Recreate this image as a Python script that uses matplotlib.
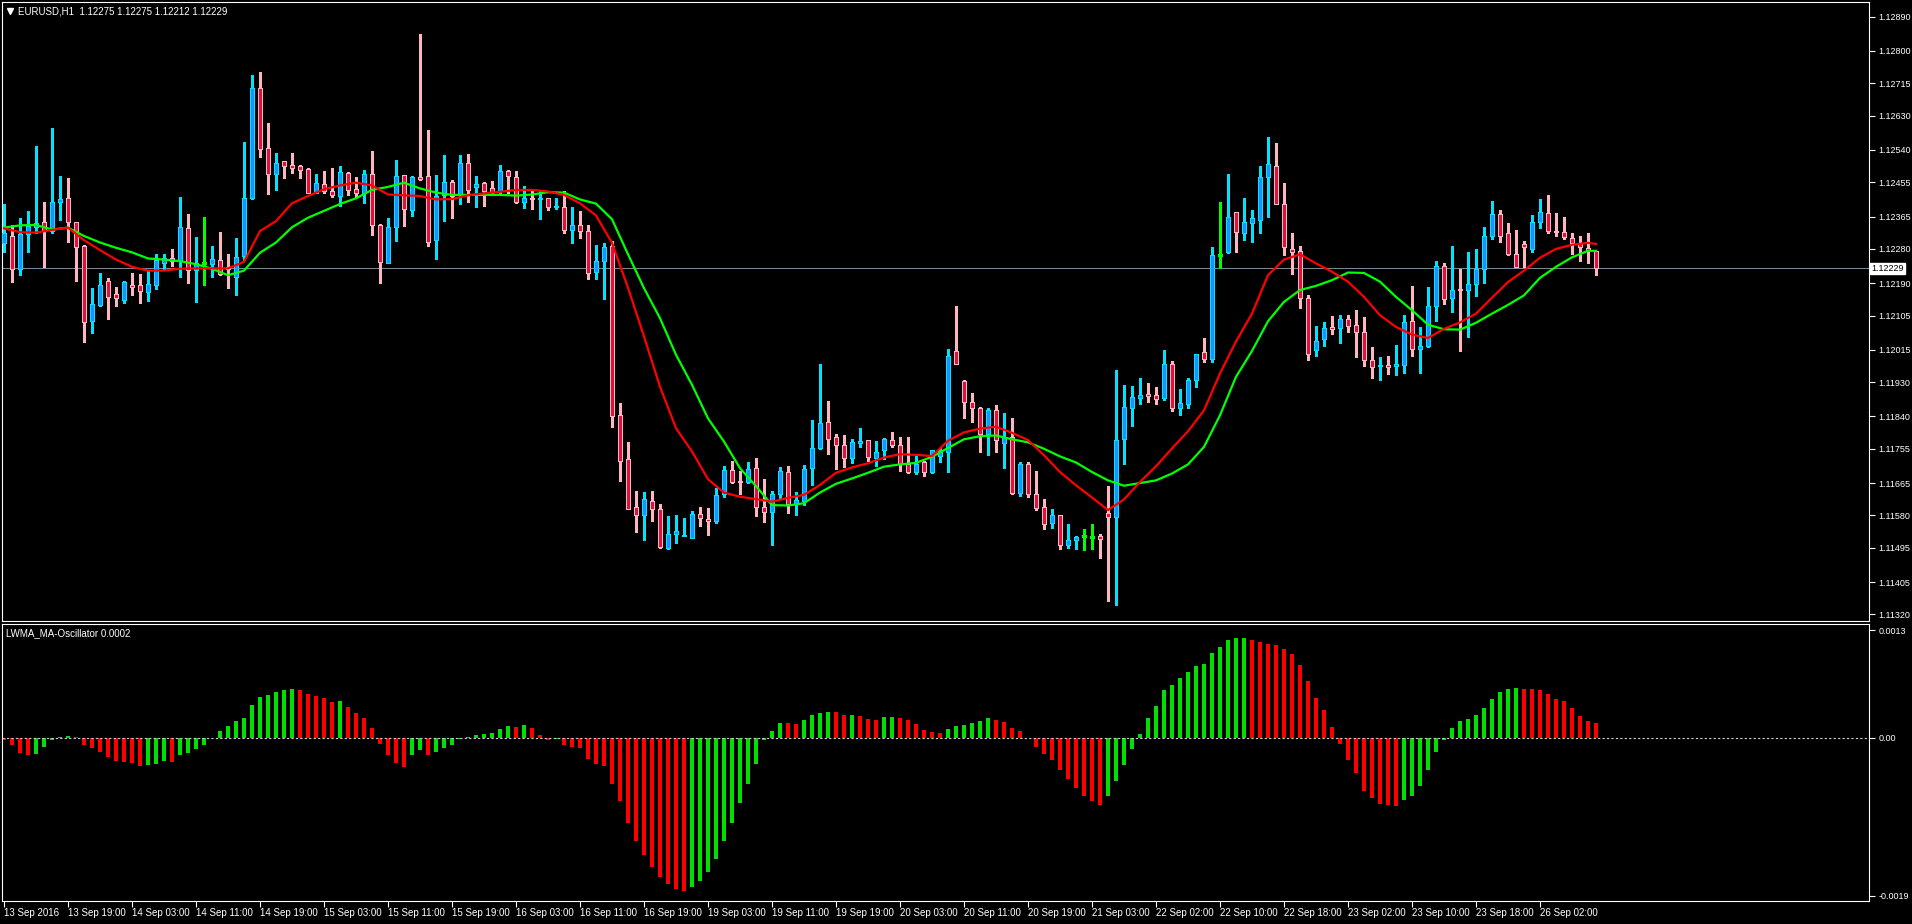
import matplotlib
matplotlib.use('Agg')
import matplotlib.pyplot as plt
from matplotlib.lines import Line2D
import numpy as np

# EURUSD H1 candles, prices in points (1e-5)
opens = [112295, 112313, 112226, 112318, 112337, 112350, 112326, 112402, 112415, 112350,
         112289, 112091, 112132, 112195, 112161, 112146, 112185, 112184, 112167, 112186,
         112244, 112256, 112247, 112334, 112224, 112242, 112241, 112252, 112233, 112205,
         112262, 112414, 112704, 112544, 112478, 112510, 112500, 112498, 112489, 112428,
         112450, 112432, 112420, 112479, 112437, 112428, 112476, 112344, 112244, 112338,
         112473, 112383, 112468, 112471, 112304, 112422, 112455, 112425, 112505, 112443,
         112453, 112439, 112433, 112484, 112468, 112404, 112413, 112412, 112413, 112389,
         112390, 112330, 112344, 112327, 112220, 112249, 112287, 111843, 111727, 111601,
         111580, 111617, 111596, 111495, 111530, 111525, 111520, 111584, 111570, 111564,
         111635, 111699, 111671, 111669, 111704, 111601, 111588, 111635, 111693, 111609,
         111619, 111704, 111756, 111825, 111785, 111764, 111730, 111769, 111777, 111730,
         111751, 111777, 111764, 111716, 111694, 111719, 111694, 111736, 111747, 112011,
         111932, 111879, 111863, 111794, 111858, 111771, 111785, 111640, 111716, 111637,
         111601, 111561, 111580, 111503, 111516, 111527, 111524, 111527, 111587, 111577,
         111781, 111863, 111889, 111900, 111895, 111889, 111979, 111861, 111873, 111937,
         112008, 111992, 112263, 112272, 112376, 112323, 112347, 112357, 112468, 112499,
         112399, 112279, 112275, 112150, 112014, 112044, 112074, 112073, 112097, 112079,
         112063, 111987, 111973, 111974, 111973, 111976, 112092, 112018, 112025, 112131,
         112234, 112150, 112176, 112171, 112187, 112226, 112315, 112371, 112321, 112268,
         112292, 112281, 112350, 112374, 112327, 112324, 112308, 112295, 112282, 112275]
highs = [112398, 112343, 112360, 112379, 112550, 112403, 112598, 112471, 112466, 112352,
         112291, 112177, 112216, 112203, 112179, 112196, 112216, 112214, 112221, 112266,
         112268, 112280, 112416, 112372, 112312, 112364, 112287, 112324, 112266, 112308,
         112561, 112737, 112745, 112611, 112532, 112512, 112532, 112500, 112492, 112477,
         112485, 112492, 112498, 112481, 112469, 112487, 112537, 112346, 112360, 112513,
         112475, 112471, 112845, 112592, 112474, 112527, 112461, 112527, 112529, 112471,
         112455, 112458, 112500, 112487, 112484, 112445, 112431, 112431, 112415, 112413,
         112432, 112390, 112379, 112343, 112290, 112296, 112300, 111876, 111773, 111644,
         111641, 111644, 111610, 111579, 111581, 111572, 111592, 111602, 111600, 111651,
         111711, 111723, 111697, 111720, 111731, 111675, 111644, 111707, 111710, 111641,
         111712, 111831, 111978, 111881, 111793, 111791, 111780, 111810, 111779, 111776,
         111783, 111798, 111785, 111785, 111736, 111724, 111753, 111757, 112016, 112130,
         111937, 111901, 111865, 111861, 111869, 111850, 111835, 111721, 111719, 111696,
         111622, 111596, 111582, 111557, 111527, 111545, 111558, 111532, 111657, 111963,
         111922, 111919, 111940, 111927, 111916, 112014, 111985, 111913, 111940, 112005,
         112045, 112286, 112402, 112478, 112378, 112415, 112381, 112499, 112573, 112557,
         112452, 112321, 112288, 112159, 112077, 112088, 112103, 112106, 112106, 112119,
         112100, 112022, 111996, 111998, 112027, 112106, 112182, 112074, 112179, 112248,
         112242, 112287, 112227, 112271, 112281, 112337, 112406, 112382, 112349, 112330,
         112302, 112369, 112411, 112422, 112374, 112364, 112322, 112314, 112322, 112275]
lows = [112271, 112194, 112211, 112271, 112321, 112233, 112321, 112356, 112299, 112196,
        112036, 112060, 112130, 112097, 112130, 112139, 112159, 112137, 112143, 112175,
        112226, 112236, 112207, 112191, 112141, 112186, 112205, 112211, 112178, 112160,
        112251, 112411, 112522, 112425, 112435, 112467, 112480, 112467, 112426, 112426,
        112428, 112417, 112393, 112421, 112417, 112401, 112317, 112191, 112242, 112301,
        112340, 112367, 112461, 112288, 112254, 112354, 112362, 112398, 112402, 112391,
        112393, 112421, 112424, 112428, 112400, 112388, 112386, 112359, 112382, 112384,
        112323, 112296, 112309, 112200, 112202, 112149, 111813, 111671, 111596, 111537,
        111515, 111566, 111494, 111491, 111508, 111525, 111520, 111553, 111529, 111561,
        111628, 111666, 111637, 111666, 111579, 111562, 111503, 111627, 111586, 111580,
        111607, 111659, 111754, 111742, 111701, 111708, 111717, 111761, 111724, 111711,
        111727, 111761, 111696, 111692, 111690, 111684, 111692, 111719, 111694, 111979,
        111836, 111826, 111747, 111739, 111747, 111705, 111637, 111632, 111629, 111594,
        111543, 111547, 111492, 111495, 111492, 111489, 111492, 111468, 111355, 111345,
        111715, 111815, 111872, 111878, 111872, 111883, 111855, 111844, 111862, 111918,
        111983, 111983, 112229, 112270, 112272, 112303, 112299, 112322, 112364, 112397,
        112264, 112215, 112125, 111989, 111999, 112025, 112057, 112033, 112062, 111996,
        111972, 111941, 111935, 111952, 111948, 111954, 111998, 111954, 112023, 112091,
        112136, 112115, 112012, 112049, 112157, 112191, 112305, 112299, 112264, 112232,
        112233, 112271, 112336, 112321, 112315, 112305, 112267, 112247, 112244, 112212]
closes = [112323, 112226, 112318, 112340, 112347, 112329, 112402, 112410, 112350, 112286,
          112089, 112135, 112184, 112154, 112150, 112192, 112181, 112170, 112188, 112251,
          112256, 112247, 112337, 112224, 112242, 112242, 112253, 112215, 112228, 112260,
          112413, 112704, 112543, 112478, 112505, 112499, 112492, 112488, 112428, 112452,
          112433, 112423, 112481, 112436, 112428, 112478, 112344, 112246, 112337, 112471,
          112386, 112468, 112464, 112299, 112420, 112455, 112420, 112505, 112436, 112450,
          112433, 112430, 112484, 112472, 112402, 112413, 112410, 112415, 112389, 112393,
          112331, 112343, 112328, 112218, 112247, 112285, 111842, 111724, 111598, 111580,
          111622, 111596, 111496, 111530, 111540, 111528, 111583, 111572, 111564, 111633,
          111699, 111669, 111669, 111701, 111603, 111590, 111635, 111697, 111609, 111621,
          111701, 111756, 111822, 111782, 111764, 111730, 111772, 111775, 111733, 111746,
          111780, 111765, 111716, 111694, 111716, 111694, 111753, 111748, 112000, 111979,
          111878, 111863, 111795, 111858, 111777, 111787, 111640, 111716, 111637, 111600,
          111558, 111580, 111501, 111516, 111524, 111527, 111524, 111518, 111577, 111777,
          111866, 111890, 111895, 111894, 111886, 111979, 111861, 111874, 111937, 112005,
          111991, 112263, 112263, 112365, 112325, 112350, 112360, 112468, 112502, 112397,
          112284, 112273, 112150, 112005, 112039, 112073, 112070, 112097, 112078, 112063,
          111987, 111970, 111975, 111971, 111979, 112087, 112018, 112026, 112131, 112234,
          112149, 112173, 112173, 112187, 112226, 112315, 112371, 112315, 112268, 112232,
          112284, 112350, 112377, 112326, 112324, 112311, 112295, 112284, 112277, 112229]

# moving averages read every second bar (and the last bar)
ma_idx = list(range(0, 200, 2)) + [199]
ma_red = [112334, 112324, 112323, 112330, 112336, 112303, 112277, 112252, 112233, 112223,
          112223, 112228, 112229, 112229, 112229, 112246, 112327, 112353, 112400, 112419,
          112437, 112447, 112454, 112447, 112423, 112421, 112419, 112410, 112411, 112421,
          112426, 112430, 112435, 112435, 112431, 112422, 112400, 112368, 112296, 112178,
          112050, 111918, 111809, 111748, 111675, 111640, 111629, 111623, 111616, 111626,
          111634, 111660, 111692, 111706, 111717, 111732, 111741, 111739, 111736, 111776,
          111798, 111808, 111813, 111797, 111778, 111738, 111694, 111659, 111627, 111594,
          111622, 111668, 111709, 111756, 111801, 111856, 111953, 112037, 112110, 112211,
          112252, 112266, 112242, 112220, 112194, 112154, 112106, 112075, 112055, 112046,
          112070, 112087, 112110, 112152, 112193, 112223, 112257, 112280, 112291, 112296,
          112293]
ma_green = [112336, 112342, 112343, 112331, 112336, 112314, 112297, 112283, 112271, 112255,
            112252, 112248, 112240, 112228, 112211, 112223, 112270, 112297, 112337, 112362,
            112380, 112398, 112413, 112435, 112443, 112454, 112439, 112428, 112422, 112422,
            112422, 112422, 112420, 112423, 112429, 112428, 112410, 112399, 112358, 112266,
            112177, 112098, 112002, 111923, 111835, 111774, 111704, 111657, 111607, 111606,
            111612, 111640, 111663, 111677, 111692, 111708, 111714, 111718, 111734, 111757,
            111780, 111788, 111790, 111780, 111772, 111755, 111735, 111719, 111694, 111672,
            111658, 111665, 111672, 111690, 111714, 111760, 111843, 111944, 112012, 112090,
            112141, 112172, 112183, 112198, 112218, 112217, 112194, 112154, 112119, 112081,
            112069, 112068, 112086, 112110, 112133, 112158, 112204, 112233, 112258, 112275,
            112275]

# LWMA_MA-Oscillator histogram, units of 1e-5
osc = [-3, -9, -18, -20, -19, -11, -3, 1, 2.5, 1,
       -8.5, -11.5, -16.5, -23, -28, -28.5, -30, -34, -32, -31,
       -28, -28.5, -21, -18, -13, -9, -0.5, 8.5, 14.5, 20.5,
       24, 40, 49.5, 52, 55.5, 58, 59, 58, 53, 50.5,
       48, 43.5, 44.5, 37.5, 30, 24, 12, -7, -21, -30,
       -35, -21, -15, -20, -16.5, -11.5, -8.5, -1, 1, 3.5,
       5, 6.5, 11, 14.5, 13, 15.5, 12, 3, -3, -1.5,
       -8, -10.5, -11.5, -25, -31, -33.5, -56, -75.5, -102.5, -124,
       -140.5, -155.5, -168, -175.5, -181.5, -184, -179, -172, -162, -145.5,
       -124.5, -103, -78, -55, -31, -3, 8.5, 18, 17.8, 16.9,
       21.5, 27.5, 30.5, 31, 30.8, 27.5, 27.7, 26, 23, 21.5,
       25, 25.2, 24, 21.5, 17, 9.5, 7, 6, 11, 14.5,
       15.5, 18, 20.5, 24, 21.5, 19.5, 12, 8.5, -0.5, -10.5,
       -19, -26, -38, -50, -60, -69.5, -75.5, -80.5, -70.5, -51.5,
       -32, -13, 5, 24, 38.5, 58, 64, 72, 79.5, 86.5,
       89, 102.5, 109.5, 118, 120.5, 121, 118, 115.5, 113, 112,
       107, 101, 88, 68.5, 48, 33.5, 13, -7, -26, -42,
       -63.5, -72, -79, -80.5, -81.5, -74.5, -69.5, -57.5, -38, -16.5,
       -3, 12, 20.5, 23, 27.5, 36, 47, 55.5, 59, 60,
       59.2, 59, 58, 53, 47, 44.5, 36, 26.5, 20.5, 18]

time_labels = ['13 Sep 2016', '13 Sep 19:00', '14 Sep 03:00', '14 Sep 11:00', '14 Sep 19:00',
               '15 Sep 03:00', '15 Sep 11:00', '15 Sep 19:00', '16 Sep 03:00', '16 Sep 11:00',
               '16 Sep 19:00', '19 Sep 03:00', '19 Sep 11:00', '19 Sep 19:00', '20 Sep 03:00',
               '20 Sep 11:00', '20 Sep 19:00', '21 Sep 03:00', '22 Sep 02:00', '22 Sep 10:00',
               '22 Sep 18:00', '23 Sep 02:00', '23 Sep 10:00', '23 Sep 18:00', '26 Sep 02:00']
price_ticks = [1.12890, 1.12800, 1.12715, 1.12630, 1.12540, 1.12455, 1.12365, 1.12280, 1.12190,
               1.12105, 1.12015, 1.11930, 1.11840, 1.11755, 1.11665, 1.11580, 1.11495, 1.11405,
               1.11320]
bid = 1.12229
osc_ticks = [0.0013, 0.0, -0.0019]
osc_tick_labels = ['0.0013', '0.00', '-0.0019']

FONT = 'Liberation Sans'
W, H = 1912, 924

o = np.array(opens) / 1e5
h = np.array(highs) / 1e5
l = np.array(lows) / 1e5
c = np.array(closes) / 1e5
x = np.arange(len(c))
osc_v = np.array(osc) / 1e5

fig = plt.figure(figsize=(W / 100, H / 100), dpi=100, facecolor='black')
ax1 = fig.add_axes([2 / W, 1 - 621 / H, 1867 / W, 619 / H])
ax2 = fig.add_axes([2 / W, 1 - 901 / H, 1867 / W, 277 / H])

for ax in (ax1, ax2):
    ax.set_facecolor('black')
    for sp in ax.spines.values():
        sp.set_color('white')
        sp.set_linewidth(0.8)
    ax.set_xlim(-0.25, 233.125)

# --- price window ---
ax1.set_ylim(1.113026, 1.129287)
ax1.axhline(bid, color='#778899', lw=0.75, zorder=1)

up = c > o
dn = c < o
fl = c == o
ax1.vlines(x[up], l[up], h[up], color='#00e5ff', lw=0.75, antialiased=False, zorder=2)
ax1.vlines(x[dn], l[dn], h[dn], color='#ffb6c1', lw=0.75, antialiased=False, zorder=2)
ax1.vlines(x[fl], l[fl], h[fl], color='#00ff00', lw=0.75, antialiased=False, zorder=2)
ax1.bar(x[up], (c - o)[up], bottom=o[up], width=0.56, color='#1e90ff',
        edgecolor='#00e5ff', linewidth=0.6, antialiased=False, zorder=3)
ax1.bar(x[dn], (o - c)[dn], bottom=c[dn], width=0.56, color='#dc143c',
        edgecolor='#ffb6c1', linewidth=0.6, antialiased=False, zorder=3)
ax1.hlines(o[fl], x[fl] - 0.3, x[fl] + 0.3, color='#00ff00', lw=0.75, antialiased=False, zorder=3)

ax1.plot(ma_idx, np.array(ma_green) / 1e5, color='#00ff00', lw=1.6, zorder=4)
ax1.plot(ma_idx, np.array(ma_red) / 1e5, color='#ff0000', lw=1.6, zorder=5)

ax1.yaxis.tick_right()
ax1.set_yticks(price_ticks)
ax1.set_yticklabels(['%.5f' % p for p in price_ticks], family=FONT)
ax1.tick_params(axis='y', colors='white', length=4, width=0.8, pad=3, labelsize=6.5)
ax1.set_xticks([])
ax1.text(1 + 2 / 1867, bid, '%.5f' % bid, transform=ax1.get_yaxis_transform(),
         color='black', fontsize=6.5, family=FONT, va='center', ha='left',
         bbox=dict(facecolor='white', edgecolor='white', pad=0.8), zorder=10, clip_on=False)

fig.text(18 / W, 1 - 11 / H, 'EURUSD,H1  1.12275 1.12275 1.12212 1.12229',
         color='white', fontsize=7, family=FONT, va='center', ha='left')
fig.add_artist(Line2D([10 / W], [1 - 11 / H], marker='v', markersize=4, color='white',
                      linestyle='none', transform=fig.transFigure))

# --- oscillator window ---
ax2.set_ylim(-0.001964, 0.001373)
prev = np.concatenate([[np.inf], osc_v[:-1]])
bar_cols = np.where(osc_v > prev, '#00e000', '#ff0000')
ax2.bar(x, osc_v, width=0.5, color=bar_cols, antialiased=False, zorder=2)
ax2.axhline(0, color='#d0d0d0', lw=0.8, linestyle=(0, (2, 2)), zorder=3)

ax2.yaxis.tick_right()
ax2.set_yticks(osc_ticks)
ax2.set_yticklabels(osc_tick_labels, family=FONT)
ax2.tick_params(axis='y', colors='white', length=4, width=0.8, pad=3, labelsize=6.5)

ax2.set_xticks(x[::8][:len(time_labels)])
ax2.set_xticklabels(time_labels, family=FONT, ha='left')
ax2.tick_params(axis='x', colors='white', length=4, width=0.8, pad=1, labelsize=7)

fig.text(6 / W, 1 - 633 / H, 'LWMA_MA-Oscillator 0.0002', color='white', fontsize=7,
         family=FONT, va='center', ha='left')

plt.savefig('out.png', dpi=100, facecolor='black')
